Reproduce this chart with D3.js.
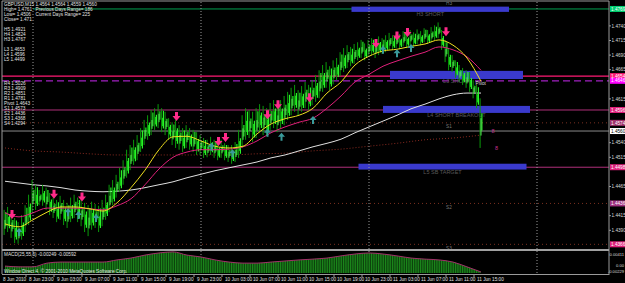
<!DOCTYPE html>
<html lang="en">
<head>
<meta charset="utf-8">
<title>GBPUSD,M15</title>
<script src="https://d3js.org/d3.v7.min.js"></script>
<style>
  body { margin: 0; background: #000; }
  svg { display: block; font-family: "Liberation Sans", Arial, sans-serif; }
</style>
</head>
<body>
<script>
var w = 625, h = 283;

// 30 minute bars from 8 Jun 2010 20:00
var barHigh = [1.4425,1.4430,1.4421,1.4411,1.4404,1.4416,1.4433,1.4451,1.4476,1.4468,
  1.4459,1.4468,1.4463,1.4454,1.4446,1.4442,1.4449,1.4442,1.4437,1.4446,
  1.4451,1.4446,1.4442,1.4437,1.4433,1.4439,1.4435,1.4432,1.4442,1.4451,
  1.4468,1.4476,1.4485,1.4497,1.4510,1.4528,1.4536,1.4545,1.4553,1.4565,
  1.4579,1.4587,1.4596,1.4599,1.4606,1.4599,1.4593,1.4582,1.4575,1.4579,
  1.4570,1.4565,1.4570,1.4565,1.4562,1.4558,1.4553,1.4548,1.4545,1.4550,
  1.4545,1.4541,1.4545,1.4539,1.4536,1.4536,1.4541,1.4562,1.4587,1.4599,
  1.4596,1.4593,1.4599,1.4606,1.4603,1.4599,1.4608,1.4613,1.4606,1.4613,
  1.4620,1.4627,1.4634,1.4639,1.4630,1.4637,1.4644,1.4639,1.4647,1.4656,
  1.4664,1.4673,1.4678,1.4671,1.4681,1.4685,1.4695,1.4702,1.4707,1.4704,
  1.4709,1.4712,1.4716,1.4710,1.4716,1.4719,1.4716,1.4722,1.4719,1.4724,
  1.4728,1.4724,1.4729,1.4726,1.4731,1.4728,1.4733,1.4729,1.4734,1.4731,
  1.4736,1.4733,1.4738,1.4741,1.4746,1.4733,1.4716,1.4702,1.4690,1.4681,
  1.4673,1.4668,1.4664,1.4661,1.4647,1.4639,1.4616];
var barLow = [1.4382,1.4387,1.4377,1.4368,1.4367,1.4374,1.4387,1.4399,1.4421,1.4425,
  1.4433,1.4432,1.4425,1.4416,1.4411,1.4404,1.4408,1.4399,1.4394,1.4404,
  1.4411,1.4404,1.4397,1.4387,1.4380,1.4391,1.4394,1.4387,1.4397,1.4408,
  1.4421,1.4433,1.4446,1.4456,1.4468,1.4480,1.4493,1.4502,1.4510,1.4524,
  1.4536,1.4545,1.4553,1.4562,1.4565,1.4558,1.4553,1.4545,1.4536,1.4531,
  1.4528,1.4524,1.4531,1.4528,1.4524,1.4519,1.4519,1.4514,1.4515,1.4519,
  1.4514,1.4510,1.4514,1.4510,1.4507,1.4504,1.4507,1.4514,1.4531,1.4545,
  1.4548,1.4541,1.4548,1.4558,1.4553,1.4551,1.4562,1.4565,1.4558,1.4565,
  1.4570,1.4579,1.4587,1.4593,1.4586,1.4593,1.4599,1.4596,1.4604,1.4610,
  1.4616,1.4627,1.4634,1.4630,1.4640,1.4647,1.4654,1.4661,1.4668,1.4671,
  1.4675,1.4681,1.4685,1.4681,1.4687,1.4690,1.4685,1.4690,1.4692,1.4695,
  1.4699,1.4699,1.4702,1.4700,1.4705,1.4702,1.4707,1.4705,1.4709,1.4707,
  1.4712,1.4709,1.4712,1.4716,1.4719,1.4699,1.4678,1.4664,1.4661,1.4651,
  1.4644,1.4639,1.4634,1.4627,1.4616,1.4599,1.4531];

// moving averages, one value every 2 hours
var maFast = [1.4401,1.4396,1.4408,1.4421,1.4430,1.4430,1.4427,1.4423,1.4437,1.4463,
  1.4493,1.4528,1.4550,1.4551,1.4543,1.4534,1.4531,1.4534,1.4555,1.4572,
  1.4581,1.4587,1.4599,1.4625,1.4644,1.4673,1.4688,1.4697,1.4700,1.4705,
  1.4709,1.4716,1.4707,1.4685,1.4645];
var maSlow = [1.4420,1.4413,1.4420,1.4428,1.4428,1.4428,1.4427,1.4425,1.4432,1.4444,
  1.4468,1.4495,1.4515,1.4524,1.4528,1.4528,1.4529,1.4533,1.4543,1.4557,
  1.4567,1.4575,1.4582,1.4599,1.4620,1.4644,1.4657,1.4671,1.4680,1.4688,
  1.4695,1.4704,1.4699,1.4687,1.4664];
var maLong = [1.4474,1.4471,1.4468,1.4466,1.4463,1.4459,1.4457,1.4456,1.4457,1.4459,
  1.4463,1.4468,1.4473,1.4480,1.4486,1.4492,1.4497,1.4502,1.4507,1.4514,
  1.4519,1.4526,1.4533,1.4539,1.4546,1.4557,1.4567,1.4577,1.4587,1.4598,
  1.4606,1.4615,1.4622,1.4625,1.4625];
// one value every 4 hours
var maDotted = [1.4531,1.4526,1.4524,1.4521,1.4519,1.4519,1.4519,1.4519,1.4519,1.4521,
  1.4522,1.4526,1.4529,1.4534,1.4539,1.4545,1.4548,1.4553];

// MACD, every 2 hours
var macd = [-0.0004,-0.0007,-0.0007,0.0007,0.0011,0.0011,0.0011,0.0011,0.0019,0.0026,
  0.0037,0.0045,0.0049,0.0037,0.0030,0.0019,0.0011,0.0007,0.0007,0.0011,
  0.0015,0.0019,0.0022,0.0026,0.0034,0.0041,0.0045,0.0041,0.0034,0.0026,
  0.0022,0.0019,0.0011,-0.0007,-0.0026];

// signal arrows: [bar, price]
var sellArrows = [[2,1.4416],[14,1.4451],[22,1.4446],[49,1.4584],[61,1.4541],[63,1.4548],
  [75,1.4587],[78,1.4604],[87,1.4616],[106,1.4709],[112,1.4722],[115,1.4728],[126,1.4729]];
var buyArrows = [[4,1.4387],[18,1.4421],[21,1.4416],[26,1.4411],[59,1.4533],[65,1.4522],
  [75,1.4557],[79,1.4550],[88,1.4579],[108,1.4699],[112,1.4693],[116,1.4702]];

// levels
var levelNames = ["H3","L3","PV","L4","S1","BID","L5","S2","S3"];
var levelPrices = [1.4769,1.4654,1.4646,1.4596,1.4574,1.4560,1.4498,1.4436,1.4366];
var levelColors = ["#00a050","#ff1a75","#a020c0","#b0307a","#7a3020","#8a8a8a","#b0307a","#7a3020","#7a3020"];
var levelDash = ["","","7,4","","1,3","","","1,3","1,3"];
var levelLabelBg = ["#00d070","#ff1a75","#ff00ff","#e0207a","#a0306a","#ffffff","#e0207a","#a03080","#e0207a"];

// zones
var zoneStart = [99, 110, 108, 101];
var zoneEnd = [144, 148, 150, 149];
var zoneTop = [1.4773, 1.4663, 1.4603, 1.4504];
var zoneBottom = [1.4764, 1.4649, 1.4591, 1.4494];
var zoneText = ["H3 SHORT", "L3 SHORT", "L4 SHORT BREAKOUT", "L5 SB TARGET"];

var priceTicks = [1.4740,1.4715,1.4690,1.4665,1.4640,1.4615,1.4590,1.4565,1.4540,1.4515,1.4490,1.4465,1.4440,1.4415,1.4390];
var macdTicks = [0.00411, 0, -0.00229];
var timeTicks = ["2010-06-08 23:00","2010-06-09 03:00","2010-06-09 07:00","2010-06-09 11:00","2010-06-09 15:00",
  "2010-06-09 19:00","2010-06-09 23:00","2010-06-10 03:00","2010-06-10 07:00","2010-06-10 11:00",
  "2010-06-10 15:00","2010-06-10 19:00","2010-06-10 23:00","2010-06-11 03:00","2010-06-11 07:00",
  "2010-06-11 11:00","2010-06-11 15:00"];
var separators = ["2010-06-09 00:00","2010-06-10 00:00","2010-06-11 00:00","2010-06-12 00:00"];

var infoLeft = ["GBPUSD,M15","High= 1.4761","Low= 1.4506","Close= 1.471","",
  "H5 1.4921","H4 1.4824","H3 1.4767","","L3 1.4653","L4 1.4596","L5 1.4499"];
var infoRight = ["1.4564 1.4564 1.4559 1.4560","Previous Days Range= 186","Current Days Range= 225"];
var pivotInfo = ["R4 1.5026","R3 1.4909","R2 1.4851","R1 1.4781","Pivot 1.4643","S1 1.4573","S2 1.4436","S3 1.4368","S4 1.4294"];

var fs = "4.7px";
var parse = d3.timeParse("%Y-%m-%d %H:%M");
var start = new Date(2010, 5, 8, 20, 0);

var svg = d3.select("body").append("svg")
  .attr("width", w).attr("height", h)
  .style("background-color", "#000000");

var x = d3.scaleTime()
  .domain([new Date(2010, 5, 9, 0, 0), new Date(2010, 5, 10, 0, 0)])
  .range([33, 201]);
var y = d3.scaleLinear().domain([1.4540, 1.4390]).range([142.7, 230.3]);
var ym = d3.scaleLinear().domain([0, 0.00411]).range([265, 254]);

function barTime(i, minutes) { return d3.timeMinute.offset(start, i * minutes); }

svg.append("clipPath").attr("id", "main")
  .append("rect").attr("x", 2).attr("y", 2).attr("width", 607).attr("height", 247);
var main = svg.append("g").attr("clip-path", "url(#main)");

// period separators
svg.selectAll("line.sep").data(separators).enter().append("line")
  .attr("x1", d => x(parse(d))).attr("x2", d => x(parse(d)))
  .attr("y1", 2).attr("y2", 274)
  .attr("stroke", "#9a9a9a").attr("stroke-dasharray", "1,2");

// levels
var levIdx = d3.range(levelPrices.length);
main.selectAll("line.lev").data(levIdx).enter().append("line")
  .attr("x1", i => levelNames[i] === "H3" ? 33 : 2).attr("x2", 609)
  .attr("y1", i => y(levelPrices[i])).attr("y2", i => y(levelPrices[i]))
  .attr("stroke", i => levelColors[i])
  .attr("stroke-width", i => (levelNames[i] === "L3" || levelNames[i] === "PV") ? 1.3 : 1)
  .attr("stroke-dasharray", i => levelDash[i]);

// zones
var zIdx = d3.range(zoneStart.length);
main.selectAll("rect.zone").data(zIdx).enter().append("rect")
  .attr("x", i => x(barTime(zoneStart[i], 30)))
  .attr("width", i => x(barTime(zoneEnd[i], 30)) - x(barTime(zoneStart[i], 30)))
  .attr("y", i => y(zoneTop[i]))
  .attr("height", i => y(zoneBottom[i]) - y(zoneTop[i]))
  .attr("fill", "#3a3acd");
main.selectAll("text.zone").data(zIdx).enter().append("text")
  .attr("x", i => (x(barTime(zoneStart[i], 30)) + x(barTime(zoneEnd[i], 30))) / 2)
  .attr("y", i => y(zoneBottom[i]) + 4)
  .attr("text-anchor", "middle").attr("font-size", "5.5px")
  .attr("fill", "#5a5a5a").text(i => zoneText[i]);

// level captions
var caps = [["H3", 1.4776], ["S1", 1.4566], ["S2", 1.4426], ["S3", 1.4356]];
main.selectAll("text.cap").data(caps).enter().append("text")
  .attr("x", 446).attr("y", d => y(d[1]))
  .attr("font-size", fs).attr("fill", "#777").text(d => d[0]);

var lineFn = function (arr, minutes) {
  return d3.line()
    .x((d, i) => x(barTime(i, minutes)))
    .y(d => y(d))
    .curve(d3.curveMonotoneX)(arr);
};
main.append("path").attr("d", lineFn(maDotted, 240))
  .attr("fill", "none").attr("stroke", "#8a2a20").attr("stroke-dasharray", "1,2");
main.append("path").attr("d", lineFn(maLong, 120))
  .attr("fill", "none").attr("stroke", "#e0e0e0").attr("stroke-width", 1);

// price bars: two thin strokes per 30 minutes
var bars = main.append("g");
bars.selectAll("line.a").data(barHigh).enter().append("line")
  .attr("x1", (d, i) => x(barTime(i, 30)) - 0.9).attr("x2", (d, i) => x(barTime(i, 30)) - 0.9)
  .attr("y1", d => y(d)).attr("y2", (d, i) => y(barLow[i]))
  .attr("stroke", "#0a9a0a").attr("stroke-width", 1);
bars.selectAll("line.b").data(barHigh).enter().append("line")
  .attr("x1", (d, i) => x(barTime(i, 30)) + 0.9).attr("x2", (d, i) => x(barTime(i, 30)) + 0.9)
  .attr("y1", (d, i) => y(d) + (y(barLow[i]) - y(d)) * (i % 3 === 0 ? 0.1 : 0.3))
  .attr("y2", (d, i) => y(barLow[i]) - (y(barLow[i]) - y(d)) * (i % 2 ? 0.15 : 0.35))
  .attr("stroke", "#2cff2c").attr("stroke-width", 1.1);
bars.selectAll("rect.b").data(barHigh).enter().append("rect")
  .attr("x", (d, i) => x(barTime(i, 30)) - 0.5).attr("width", 1)
  .attr("y", (d, i) => y(d) + (y(barLow[i]) - y(d)) * 0.4)
  .attr("height", (d, i) => (y(barLow[i]) - y(d)) * 0.35)
  .attr("fill", (d, i) => i % 2 ? "#18d018" : "#56f056");

main.append("path").attr("d", lineFn(maSlow, 120))
  .attr("fill", "none").attr("stroke", "#e0207a").attr("stroke-width", 1);
main.append("path").attr("d", lineFn(maFast, 120))
  .attr("fill", "none").attr("stroke", "#f0e020").attr("stroke-width", 1);

// arrows
main.selectAll("path.sell").data(sellArrows).enter().append("path")
  .attr("transform", d => "translate(" + x(barTime(d[0], 30)) + "," + y(d[1]) + ")")
  .attr("d", "M-1.5,-5L1.5,-5L1.5,-1L4,-1L0,4L-4,-1L-1.5,-1Z")
  .attr("fill", "#ff2a8a");
main.selectAll("path.buy").data(buyArrows).enter().append("path")
  .attr("transform", d => "translate(" + x(barTime(d[0], 30)) + "," + y(d[1]) + ")")
  .attr("d", "M0,-4L3.5,0L1,0L1,4L-1,4L-1,0L-3.5,0Z")
  .attr("fill", "#3a9a9a");

main.append("text").attr("x", x(barTime(135, 30)) - 2).attr("y", y(1.4638))
  .attr("font-size", fs).attr("fill", "#ddd").text("Pivot");
main.append("text").attr("x", x(barTime(139, 30))).attr("y", y(1.4557))
  .attr("font-size", "5.5px").attr("fill", "#c03090").text("8");
main.append("text").attr("x", x(barTime(140, 30))).attr("y", y(1.4527))
  .attr("font-size", "5.5px").attr("fill", "#c03090").text("8");

// info text
var info = svg.append("g").attr("font-size", fs).attr("fill", "#e0e0e0");
info.selectAll("text.l").data(infoLeft).enter().append("text")
  .attr("x", 4).attr("y", (d, i) => 6 + i * 5).text(d => d);
info.selectAll("text.r").data(infoRight).enter().append("text")
  .attr("x", 35.5).attr("y", (d, i) => 6 + i * 5).text(d => d);
info.selectAll("text.p").data(pivotInfo).enter().append("text")
  .attr("x", 4).attr("y", (d, i) => 85 + i * 5).text(d => d);

// frame
svg.append("line").attr("x1", 2).attr("x2", 2).attr("y1", 1).attr("y2", 274).attr("stroke", "#9a9a9a");
svg.append("line").attr("x1", 2).attr("x2", 609).attr("y1", 1).attr("y2", 1).attr("stroke", "#9a9a9a");
svg.append("line").attr("x1", 609).attr("x2", 609).attr("y1", 1).attr("y2", 275).attr("stroke", "#9a9a9a");
svg.append("rect").attr("x", 2).attr("y", 249).attr("width", 607).attr("height", 2).attr("fill", "#a0a0a0");
svg.append("line").attr("x1", 2).attr("x2", 609).attr("y1", 274.5).attr("y2", 274.5).attr("stroke", "#9a9a9a");

// right price axis, ticks hidden under level labels
var shownTicks = priceTicks.filter(p => levelPrices.every(l => Math.abs(y(l) - y(p)) > 5.5));
var yAxis = svg.append("g").attr("font-size", fs).attr("fill", "#d8d8d8");
yAxis.selectAll("line").data(shownTicks).enter().append("line")
  .attr("x1", 609).attr("x2", 611).attr("y1", d => y(d)).attr("y2", d => y(d)).attr("stroke", "#9a9a9a");
yAxis.selectAll("text").data(shownTicks).enter().append("text")
  .attr("x", 611.5).attr("y", d => y(d) + 1.7).text(d => d.toFixed(4));
var lab = svg.selectAll("g.lab").data(levIdx).enter().append("g");
lab.append("rect").attr("x", 610).attr("width", 15)
  .attr("y", i => y(levelPrices[i]) - 3).attr("height", 6)
  .attr("fill", i => levelLabelBg[i]);
lab.append("text").attr("x", 611).attr("y", i => y(levelPrices[i]) + 1.7)
  .attr("font-size", fs).attr("fill", i => levelNames[i] === "BID" ? "#000" : "#fff")
  .text(i => levelPrices[i].toFixed(4));

// MACD
var pat = svg.append("defs").append("pattern").attr("id", "stripes")
  .attr("width", 1.75).attr("height", 4).attr("patternUnits", "userSpaceOnUse");
pat.append("rect").attr("width", 1.75).attr("height", 4).attr("fill", "#0a3a0a");
pat.append("rect").attr("width", 0.9).attr("height", 4).attr("fill", "#1c8c1c");
var area = d3.area()
  .x((d, i) => x(barTime(i, 120)))
  .y0(273).y1(d => ym(d))
  .curve(d3.curveMonotoneX);
svg.append("path").attr("d", area(macd)).attr("fill", "url(#stripes)");
svg.append("path").attr("d", d3.line().x((d, i) => x(barTime(i, 120))).y(d => ym(d)).curve(d3.curveMonotoneX)(macd))
  .attr("fill", "none").attr("stroke", "#a03068").attr("stroke-width", 1);
svg.append("text").attr("x", 4).attr("y", 256).attr("font-size", fs).attr("fill", "#e0e0e0")
  .text("MACD(25,55,5) -0.00249 -0.00592");
svg.append("text").attr("x", 4).attr("y", 273).attr("font-size", fs).attr("fill", "#e0e0e0")
  .text("Window Direct 4, \u00a9 2001-2010 MetaQuotes Software Corp.");
svg.selectAll("text.mt").data(macdTicks).enter().append("text")
  .attr("x", 624).attr("text-anchor", "end")
  .attr("y", d => Math.min(ym(d) + 1.6, 273.5)).attr("font-size", "4.1px").attr("fill", "#d8d8d8")
  .text(d => d === 0 ? "0.00" : d.toFixed(5));

// time axis
var fmt = d3.timeFormat("%-d %b %H:%M");
svg.append("text").attr("x", 3).attr("y", 281).attr("font-size", fs).attr("fill", "#e0e0e0").text("8 Jun 2010");
var tx = svg.selectAll("g.tt").data(timeTicks).enter().append("g");
tx.append("line").attr("x1", d => x(parse(d))).attr("x2", d => x(parse(d)))
  .attr("y1", 275).attr("y2", 277).attr("stroke", "#9a9a9a");
tx.append("text").attr("x", d => x(parse(d)) + 3).attr("y", 281)
  .attr("font-size", fs).attr("fill", "#e0e0e0").text(d => fmt(parse(d)));
</script>
</body>
</html>
